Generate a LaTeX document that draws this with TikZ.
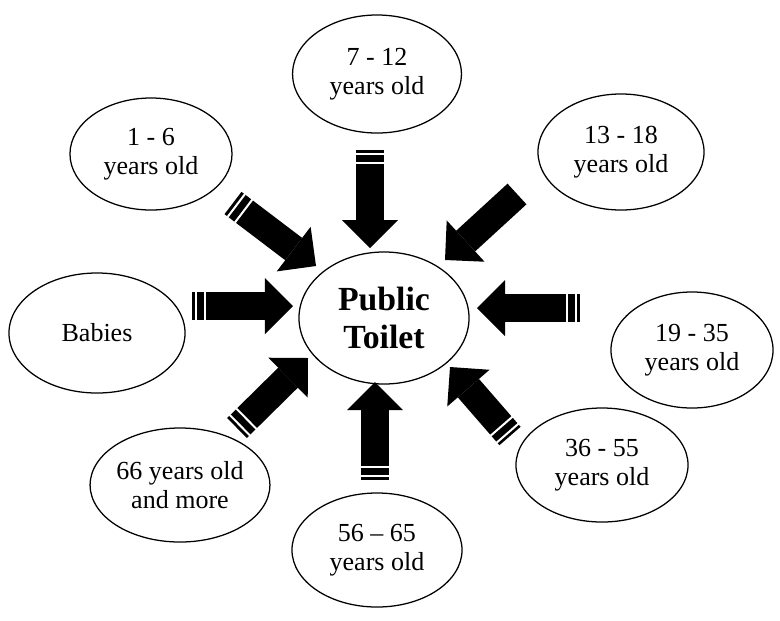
\documentclass[tikz,border=0pt]{standalone}
\usepackage{fontspec}
\setmainfont{Liberation Serif}
\usetikzlibrary{shapes.geometric,arrows.meta,calc}

\tikzset{
	group/.style={draw, ellipse, line width=0.9pt, inner sep=0pt, align=center, font=\fontsize{18.5}{21}\selectfont},
	fat/.style={line width=0.7cm, -{Triangle[length=0.7cm,width=1.4cm,line width=0pt]}},
	bands/.style={white, line width=0.72cm, dash pattern=on 0.05cm off 0.18cm on 0.05cm off 2cm}
}

\begin{document}
\begin{tikzpicture}[x=0.025cm,y=-0.025cm]
	\useasboundingbox (0,0) rectangle (780,620);
	% the groups
	\node [group, minimum width=4.25cm, minimum height=3.3cm, font=\fontsize{24}{27}\selectfont\bfseries] (toilet) at (384,318) {Public\\Toilet};
	\node [group, minimum width=4.22cm, minimum height=2.95cm] (g712) at (377,74) {7 - 12\\years old};
	\node [group, minimum width=4.05cm, minimum height=2.8cm] (g16) at (151,154) {1 - 6\\years old};
	\node [group, minimum width=4.15cm, minimum height=2.9cm] (g1318) at (621,152) {13 - 18\\years old};
	\node [group, minimum width=4.4cm, minimum height=3cm] (babies) at (97,333) {Babies};
	\node [group, minimum width=4.05cm, minimum height=2.9cm] (g1935) at (692,350) {19 - 35\\years old};
	\node [group, minimum width=4.3cm, minimum height=2.85cm] (g3655) at (602,465) {36 - 55\\years old};
	\node [group, minimum width=4.4cm, minimum height=2.85cm] (g66) at (180,485) {66 years old\\and more};
	\node [group, minimum width=4.25cm, minimum height=2.85cm] (g5665) at (377,550) {56 -- 65\\years old};
	% arrow ends
	\coordinate (t16) at (233,203);   \coordinate (h16) at (316,266);
	\coordinate (t712) at (370,150);  \coordinate (h712) at (370,248);
	\coordinate (t1318) at (517,194); \coordinate (h1318) at (445,260);
	\coordinate (tb) at (192,306);    \coordinate (hb) at (293,306);
	\coordinate (t1935) at (580,308); \coordinate (h1935) at (477,308);
	\coordinate (t3655) at (510,436); \coordinate (h3655) at (450,367);
	\coordinate (t66) at (237,428);   \coordinate (h66) at (308,358);
	\coordinate (t5665) at (375,480); \coordinate (h5665) at (375,382);
	% arrows
	\draw [fat] (t16) -- (h16);
	\draw [fat] (t712) -- (h712);
	\draw [fat] (t1318) -- (h1318);
	\draw [fat] (tb) -- (hb);
	\draw [fat] (t1935) -- (h1935);
	\draw [fat] (t3655) -- (h3655);
	\draw [fat] (t66) -- (h66);
	\draw [fat] (t5665) -- (h5665);
	% white bands at the tails
	\draw [bands] ($(t16)!0.03!(h16)$) -- ($(t16)!0.2!(h16)$);
	\draw [bands] ($(t712)!0.03!(h712)$) -- ($(t712)!0.2!(h712)$);
	\draw [bands] ($(tb)!0.03!(hb)$) -- ($(tb)!0.2!(hb)$);
	\draw [bands] ($(t1935)!0.03!(h1935)$) -- ($(t1935)!0.2!(h1935)$);
	\draw [bands] ($(t3655)!0.03!(h3655)$) -- ($(t3655)!0.2!(h3655)$);
	\draw [bands] ($(t66)!0.03!(h66)$) -- ($(t66)!0.2!(h66)$);
	\draw [bands] ($(t5665)!0.03!(h5665)$) -- ($(t5665)!0.2!(h5665)$);
\end{tikzpicture}
\end{document}
